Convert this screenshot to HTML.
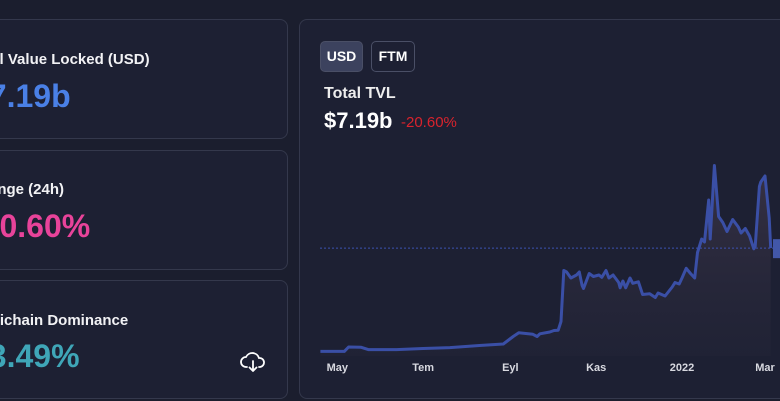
<!DOCTYPE html>
<html><head><meta charset="utf-8"><style>
*{box-sizing:border-box;margin:0;padding:0}
body{width:780px;height:401px;overflow:hidden;background:#1b1e2e;font-family:"Liberation Sans",sans-serif;color:#fff;position:relative}
.card{position:absolute;left:-20px;width:308px;background:#1d2033;border:1px solid #34384c;border-radius:8px;overflow:hidden}
.lbl{position:absolute;left:-12px;font-size:15px;font-weight:bold;color:#f2f2f5;white-space:nowrap}
.val{position:absolute;left:-10px;font-size:32px;font-weight:bold;white-space:nowrap}
.panel{position:absolute;left:299px;top:19px;width:500px;height:380px;background:#1d2033;border:1px solid #34384c;border-radius:8px}
.btn{position:absolute;top:21px;height:31px;border:1px solid #4a4f66;border-radius:5px;font-size:14px;font-weight:bold;line-height:29px;text-align:center}
</style></head><body>
<div class="card" style="top:19px;height:120px">
 <div class="lbl" style="top:31px">Total Value Locked (USD)</div>
 <div class="val" style="top:58px;color:#4a80e6">$7.19b</div>
</div>
<div class="card" style="top:150px;height:120px">
 <div class="lbl" style="top:30px">Change (24h)</div>
 <div class="val" style="top:57px;color:#e8439a">-20.60%</div>
</div>
<div class="card" style="top:280px;height:119px">
 <div class="lbl" style="top:31px">Multichain Dominance</div>
 <div class="val" style="top:57px;color:#3fa6b8">53.49%</div>
 <svg style="position:absolute;left:259px;top:69px" width="26" height="24" viewBox="0 0 26 24"><path d="M7 17 H6 a5 5 0 0 1 0-10 a7 7 0 0 1 13 1 a4.5 4.5 0 0 1 1 9 H19" fill="none" stroke="#fff" stroke-width="1.8" stroke-linecap="round"/><path d="M13 11 V21 M9.5 17.5 L13 21 L16.5 17.5" fill="none" stroke="#fff" stroke-width="1.8" stroke-linecap="round" stroke-linejoin="round"/></svg>
</div>
<div class="panel">
 <div class="btn" style="left:20px;width:43px;background:#3c425e">USD</div>
 <div class="btn" style="left:71px;width:44px;background:#1d2033">FTM</div>
 <div style="position:absolute;left:24px;top:65px;font-size:16px;font-weight:bold;color:#eee">Total TVL</div>
 <div style="position:absolute;left:24px;top:88px;font-size:22px;font-weight:bold">$7.19b</div>
 <div style="position:absolute;left:101px;top:94px;font-size:15px;color:#d9232d">-20.60%</div>
</div>
<svg id="chart" width="780" height="401" style="position:absolute;left:0;top:0">
 <defs><linearGradient id="g" x1="0" y1="0" x2="0" y2="1"><stop offset="0" stop-color="#3e3649" stop-opacity="1"/><stop offset="1" stop-color="#2a2a3c" stop-opacity="0.3"/></linearGradient></defs>
</svg>
<script>
const days=[-12,5,8,17,22,42,61,80,101,118,125,129,139,142,144,151,154,157,159,161,163,166,170,172,174,175,179,182,186,188,191,193,196,200,201,203,205,208,210,214,217,222,226,228,233,238,240,243,245,248,251,254,256,259,261,264,265,268,271,274,277,281,285,287,290,293,296,297,300,301,304,307,308];
const values=[0.31,0.31,0.6,0.58,0.43,0.43,0.5,0.56,0.7,0.8,1.3,1.55,1.45,1.3,1.48,1.6,1.7,1.72,2.3,5.7,5.6,5.2,5.4,5.6,4.7,4.5,5.5,5.3,5.4,5.25,5.7,5.2,5.4,4.9,4.55,5.0,4.55,5.2,4.85,4.95,4.1,4.15,3.9,4.2,4.0,4.6,4.9,4.8,5.2,5.85,5.5,5.2,6.9,7.8,7.6,10.4,7.8,12.7,9.3,8.9,8.3,9.1,8.6,8.2,8.5,8.0,7.15,7.3,11.3,11.6,12.0,9.2,7.19];
const tickLabels=["May","Tem","Eyl","Kas","2022","Mar"];
const tickDays=[0,61,123,184,245,304];
const current=7.19;
const xs=d=>337.3+1.407*d;
const ys=v=>356-15*v;
const svg=document.getElementById('chart');
const NS='http://www.w3.org/2000/svg';
let pts=days.map((d,i)=>xs(d).toFixed(1)+','+ys(values[i]).toFixed(1));
const area=document.createElementNS(NS,'path');


area.setAttribute('d','M'+xs(days[0])+','+ys(0)+' L'+pts.join(' L')+' L'+xs(days[days.length-1])+','+ys(0)+'Z');
area.setAttribute('fill','url(#g)');area.setAttribute('opacity','0.8');
svg.appendChild(area);
const dl=document.createElementNS(NS,'line');


dl.setAttribute('x1',320);dl.setAttribute('x2',773);dl.setAttribute('y1',ys(current));dl.setAttribute('y2',ys(current));
dl.setAttribute('stroke','#3d52b0');dl.setAttribute('stroke-dasharray','2,2');
svg.appendChild(dl);
const line=document.createElementNS(NS,'polyline');


line.setAttribute('points',pts.join(' '));
line.setAttribute('fill','none');line.setAttribute('stroke','#3a4fa6');line.setAttribute('stroke-width','3');line.setAttribute('stroke-linejoin','round');
svg.appendChild(line);
const mk=document.createElementNS(NS,'rect');


mk.setAttribute('x',773);mk.setAttribute('y',ys(current)-9);mk.setAttribute('width',8);mk.setAttribute('height',19);mk.setAttribute('fill','#4257a8');
svg.appendChild(mk);
tickLabels.forEach((t,i)=>{
 const tx=document.createElementNS(NS,'text');
 
 
 tx.setAttribute('x',xs(tickDays[i]));tx.setAttribute('y',371);
 tx.setAttribute('text-anchor','middle');tx.setAttribute('fill','#d8d9e0');
 tx.setAttribute('font-size','11');tx.setAttribute('font-weight','bold');
 tx.setAttribute('font-family','Liberation Sans, sans-serif');
 tx.textContent=t;svg.appendChild(tx);
});
</script>
</body></html>
